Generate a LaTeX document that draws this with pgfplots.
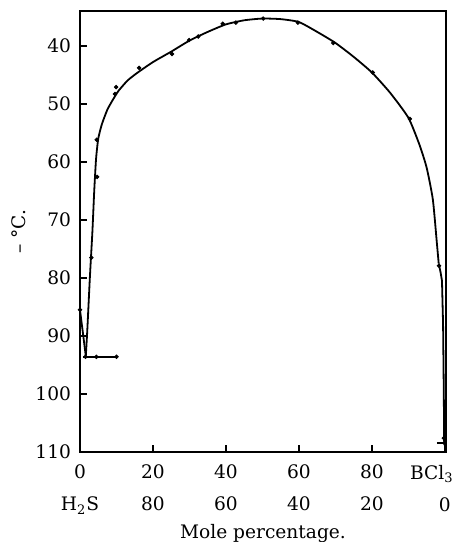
\documentclass[border=0pt]{standalone}
\usepackage{fontspec}
\setmainfont{DejaVu Serif}
\usepackage{pgfplots}
\pgfplotsset{compat=1.18}
\usetikzlibrary{calc}
\begin{document}
\begin{tikzpicture}
\begin{axis}[
  scale only axis,
  width=183pt, height=220.5pt,
  xmin=0, xmax=100.3,
  ymin=34, ymax=110,
  y dir=reverse,
  axis line style={line width=0.8pt},
  xtick={0,20,40,60,80,100},
  xticklabels={{0\\H\textsubscript{2}S},{20\\80},{40\\60},{60\\40},{80\\20},{\hspace*{-13pt}BCl\textsubscript{3}\\0}},
  ytick={40,50,60,70,80,90,100,110},
  xtick pos=bottom, ytick pos=left,
  tick align=inside,
  major tick length=3.5pt,
  tick style={line width=0.7pt, black},
  /pgf/number format/assume math mode=true,
  ticklabel style={font=\fontsize{9.3}{16}\selectfont},
  xticklabel style={align=center, yshift=-3pt},
  yticklabel style={xshift=-1pt},
  xlabel={Mole percentage.},
  ylabel={– °C.},
  label style={font=\fontsize{9.3}{11}\selectfont},
  xlabel style={at={(axis description cs:0.5,-0.185)}, anchor=center},
  ylabel style={at={(axis description cs:-0.167,0.5)}, anchor=center, rotate=0},
  clip=false,
]
% main freezing-point curve
\addplot[black, line width=0.9pt, smooth, tension=0.35] coordinates {
(1.6,93.4) (2.0,89) (2.7,80) (3.4,72) (3.9,65) (4.4,59.5) (5.0,56)
(6.0,53.5) (7.5,51) (9.0,49.3) (10.5,47.8) (13,46) (15.6,44.7)
(20,42.8) (25,41) (30,39.1) (35,37.6) (40,36.3) (45,35.6) (50,35.3)
(55,35.4) (60,35.9) (65,37.6) (70,39.5) (75,41.9) (80,44.6) (85,48.1)
(90,52.4) (93,57) (95,61) (96.7,66.5) (97.8,74) (98.3,77.5)
};
\addplot[black, line width=0.9pt] coordinates {
(98.3,77.5) (98.8,79) (99.2,80.5) (99.5,88) (99.7,100) (99.8,108.8)
};
% H2S side branch
\addplot[black, line width=0.9pt] coordinates {(0,85.5) (1.6,93.5)};
% eutectic lines
\addplot[black, line width=0.8pt] coordinates {(0.8,93.6) (10.1,93.6)};
\addplot[black, line width=0.8pt] coordinates {(97.8,108.4) (100.3,108.4)};
% observed points
\addplot[only marks, mark=*, mark size=0.9pt, black] coordinates {
(0,85.5) (3.1,76.5) (4.6,56.2) (4.7,62.6) (9.6,48.3) (9.9,47.1)
(16.2,43.8) (25.2,41.4) (29.9,39.0) (32.4,38.4) (39.1,36.2) (42.7,36.0)
(50.2,35.3) (59.7,36.0) (69.4,39.5) (80.2,44.6) (90.4,52.6) (98.4,77.9)
(99.7,107.6) (1.5,93.6) (4.5,93.6) (10,93.6)
};
\end{axis}
\pgfresetboundingbox
\path ($(current axis.south west)+(-40pt,-45pt)$) rectangle ($(current axis.north east)+(6.5pt,5.5pt)$);
\end{tikzpicture}
\end{document}
